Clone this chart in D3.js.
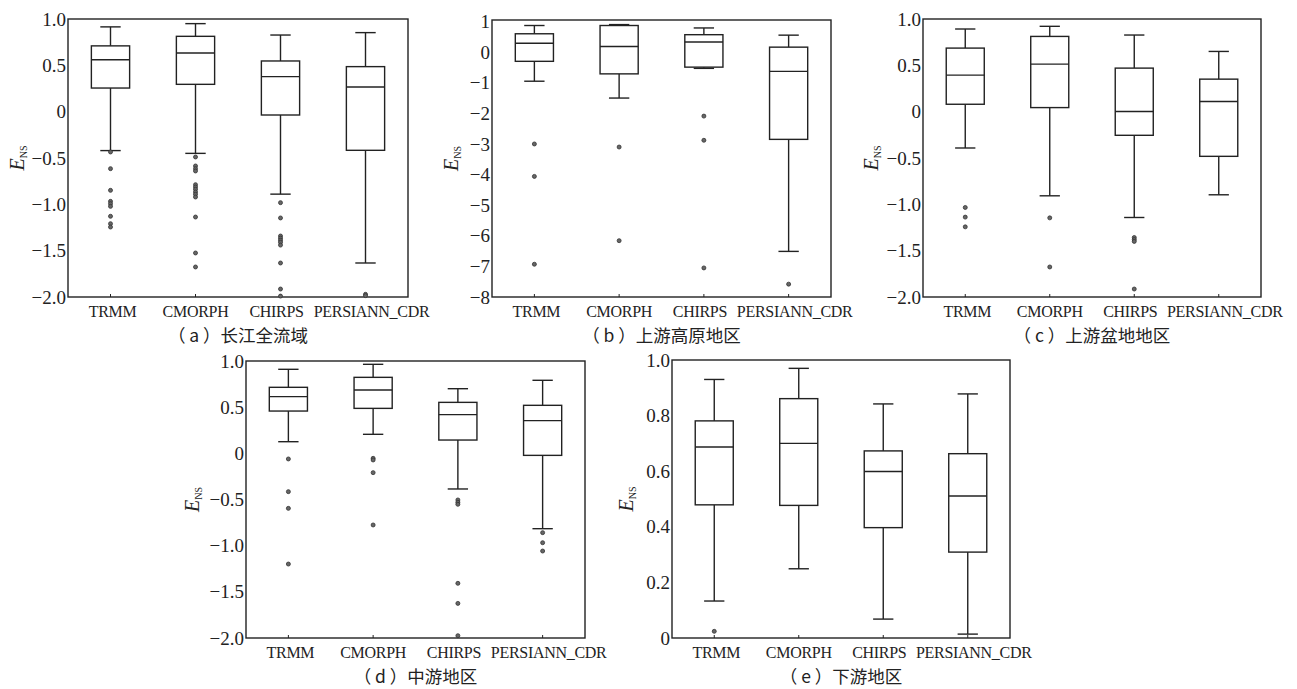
<!DOCTYPE html>
<html>
<head>
<meta charset="utf-8">
<script src="https://cdn.jsdelivr.net/npm/d3@7"></script>
<style>
body{margin:0;background:#fff}
.tick text{font-family:"Liberation Serif",serif;fill:#222}
</style>
</head>
<body>
<div id="chart"></div>
<script>
var categories = ["TRMM", "CMORPH", "CHIRPS", "PERSIANN_CDR"];

// each row: [lower whisker, Q1, median, Q3, upper whisker]
var statsA = [[-0.42, 0.255, 0.56, 0.71, 0.915], [-0.45, 0.295, 0.633, 0.813, 0.95], [-0.89, -0.036, 0.378, 0.547, 0.827], [-1.633, -0.417, 0.266, 0.486, 0.853]];
var outliersA = [[-0.435, -0.615, -0.849, -0.968, -0.993, -1.022, -1.129, -1.209, -1.245],
  [-0.489, -0.586, -0.615, -0.64, -0.788, -0.813, -0.838, -0.867, -0.892, -0.921, -1.137, -1.525, -1.676],
  [-0.982, -1.147, -1.342, -1.365, -1.388, -1.41, -1.44, -1.633, -1.914, -1.99],
  [-1.971, -1.985]];
var ticksA = [1, 0.5, 0, -0.5, -1, -1.5, -2];

var statsB = [[-0.95, -0.30, 0.29, 0.60, 0.87], [-1.50, -0.71, 0.185, 0.87, 0.90], [-0.53, -0.49, 0.33, 0.57, 0.79], [-6.51, -2.85, -0.63, 0.163, 0.555]];
var outliersB = [[-3.0, -4.06, -6.93], [-3.10, -6.16], [-2.09, -2.88, -7.05], [-7.58]];
var ticksB = [1, 0, -1, -2, -3, -4, -5, -6, -7, -8];

var statsC = [[-0.392, 0.080, 0.394, 0.686, 0.892], [-0.908, 0.044, 0.513, 0.812, 0.921], [-1.142, -0.255, 0.001, 0.470, 0.827], [-0.897, -0.482, 0.109, 0.351, 0.650]];
var outliersC = [[-1.034, -1.138, -1.243], [-1.146, -1.676], [-1.358, -1.38, -1.40, -1.914], []];
var ticksC = [1, 0.5, 0, -0.5, -1, -1.5, -2];

var statsD = [[0.126, 0.458, 0.614, 0.715, 0.910], [0.206, 0.487, 0.686, 0.823, 0.964], [-0.386, 0.144, 0.419, 0.552, 0.700], [-0.816, -0.022, 0.354, 0.520, 0.791]];
var outliersD = [[-0.061, -0.415, -0.596, -1.199], [-0.054, -0.072, -0.209, -0.776], [-0.505, -0.53, -0.552, -1.408, -1.625, -1.975], [-0.859, -0.968, -1.058]];
var ticksD = [1, 0.5, 0, -0.5, -1, -1.5, -2];

var statsE = [[0.133, 0.479, 0.687, 0.781, 0.930], [0.249, 0.477, 0.700, 0.861, 0.970], [0.068, 0.397, 0.599, 0.673, 0.842], [0.014, 0.309, 0.511, 0.663, 0.878]];
var outliersE = [[0.024], [], [], []];
var ticksE = [1, 0.8, 0.6, 0.4, 0.2, 0];

var captions = ["（ a ）长江全流域", "（ b ）上游高原地区", "（ c ）上游盆地地区", "（ d ）中游地区", "（ e ）下游地区"];

// small horizontal nudges of the category labels so they do not collide
var labelShift = [2, 0, -4, 6];

var panels = [
  {stats: statsA, out: outliersA, ticks: ticksA, domain: [-2, 1], fmt: ".1f", box: [68, 408, 19, 297], labX: 18, cap: captions[0]},
  {stats: statsB, out: outliersB, ticks: ticksB, domain: [-8, 1.05], fmt: "d", box: [492, 831, 20, 297], labX: 452, cap: captions[1]},
  {stats: statsC, out: outliersC, ticks: ticksC, domain: [-2, 1], fmt: ".1f", box: [923, 1261, 19, 297], labX: 872, cap: captions[2]},
  {stats: statsD, out: outliersD, ticks: ticksD, domain: [-2, 1], fmt: ".1f", box: [246, 585, 361, 638], labX: 193, cap: captions[3]},
  {stats: statsE, out: outliersE, ticks: ticksE, domain: [0, 1], fmt: ".1f", box: [672, 1010, 360, 638], labX: 627, cap: captions[4]}
];

var W = 1297, H = 689;
var ink = "#222";

var svg = d3.select("#chart").append("svg")
  .attr("width", W).attr("height", H);

panels.forEach(function(p){
  var L = p.box[0], R = p.box[1], T = p.box[2], B = p.box[3];
  var g = svg.append("g");

  var x = d3.scaleBand().domain(categories).range([L, R]).padding(0);
  var y = d3.scaleLinear().domain(p.domain).range([B, T]);
  var f = d3.format(p.fmt);
  var bw = x.bandwidth() * 0.45;
  var cw = x.bandwidth() * 0.24;

  // frame
  g.append("rect")
    .attr("x", L).attr("y", T).attr("width", R - L).attr("height", B - T)
    .attr("fill", "none").attr("stroke", ink).attr("stroke-width", 1.4);

  // y axis
  var ya = g.append("g")
    .attr("transform", "translate(" + L + ",0)")
    .call(d3.axisLeft(y).tickValues(p.ticks).tickSize(0).tickPadding(2)
      .tickFormat(function(d){ return d === 0 ? "0" : f(d); }));
  ya.attr("font-family", "Liberation Serif, serif");
  ya.select(".domain").remove();
  ya.selectAll("text").style("font-size", "19px");

  // x axis
  var xa = g.append("g")
    .attr("transform", "translate(0," + B + ")")
    .call(d3.axisBottom(x).tickSize(-3).tickPadding(9));
  xa.attr("font-family", "Liberation Serif, serif");
  xa.select(".domain").remove();
  xa.selectAll("line").attr("stroke", ink);
  xa.selectAll("text")
    .attr("dx", function(d, i){ return labelShift[i]; })
    .style("font-size", "16px").style("letter-spacing", "-0.3px");

  // boxes
  var grp = g.selectAll("g.bx").data(p.stats).enter().append("g").attr("class", "bx")
    .attr("transform", function(d, i){ return "translate(" + (x(categories[i]) + x.bandwidth() / 2) + ",0)"; });

  grp.append("line")
    .attr("x1", 0).attr("x2", 0)
    .attr("y1", function(d){ return y(d[4]); })
    .attr("y2", function(d){ return y(d[3]); })
    .attr("stroke", ink).attr("stroke-width", 1.4);
  grp.append("line")
    .attr("x1", 0).attr("x2", 0)
    .attr("y1", function(d){ return y(d[1]); })
    .attr("y2", function(d){ return y(d[0]); })
    .attr("stroke", ink).attr("stroke-width", 1.4);
  grp.append("line")
    .attr("x1", -cw / 2).attr("x2", cw / 2)
    .attr("y1", function(d){ return y(d[4]); })
    .attr("y2", function(d){ return y(d[4]); })
    .attr("stroke", ink).attr("stroke-width", 1.4);
  grp.append("line")
    .attr("x1", -cw / 2).attr("x2", cw / 2)
    .attr("y1", function(d){ return y(d[0]); })
    .attr("y2", function(d){ return y(d[0]); })
    .attr("stroke", ink).attr("stroke-width", 1.4);
  grp.append("rect")
    .attr("x", -bw / 2).attr("width", bw)
    .attr("y", function(d){ return y(d[3]); })
    .attr("height", function(d){ return y(d[1]) - y(d[3]); })
    .attr("fill", "#fff").attr("stroke", ink).attr("stroke-width", 1.4);
  grp.append("line")
    .attr("x1", -bw / 2).attr("x2", bw / 2)
    .attr("y1", function(d){ return y(d[2]); })
    .attr("y2", function(d){ return y(d[2]); })
    .attr("stroke", ink).attr("stroke-width", 1.4);

  // outliers
  p.out.forEach(function(vals, i){
    g.selectAll(null).data(vals).enter().append("circle")
      .attr("cx", x(categories[i]) + x.bandwidth() / 2)
      .attr("cy", function(d){ return y(d); })
      .attr("r", 2)
      .attr("fill", "#666").attr("stroke", "#333").attr("stroke-width", 0.8);
  });

  // y label E_NS
  var lab = g.append("text")
    .attr("transform", "translate(" + (p.labX + 6) + "," + ((T + B) / 2) + ") rotate(-90)")
    .attr("text-anchor", "middle")
    .style("font-family", "Liberation Serif, serif").style("fill", ink);
  lab.append("tspan").text("E").style("font-style", "italic").style("font-size", "20px");
  lab.append("tspan").text("NS").style("font-size", "10px").attr("dy", 3);

  // caption
  g.append("text")
    .attr("x", (L + R) / 2)
    .attr("y", B + 45)
    .attr("text-anchor", "middle")
    .style("font-family", "Noto Sans CJK SC, sans-serif")
    .style("font-size", "17.5px").style("fill", ink)
    .text(p.cap);
});
</script>
</body>
</html>
